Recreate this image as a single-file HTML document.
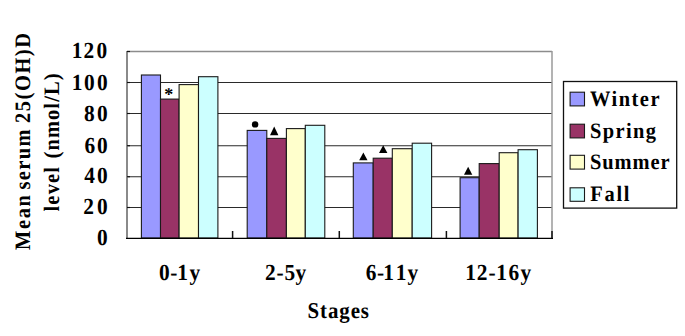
<!DOCTYPE html><html><head><meta charset="utf-8"><style>html,body{margin:0;padding:0;background:#fff;overflow:hidden}svg{display:block}text{font-family:"Liberation Serif",serif;font-weight:bold;text-rendering:geometricPrecision}</style></head><body><svg width="685" height="336" viewBox="0 0 685 336"><rect width="685" height="336" fill="#fff"/><line x1="127" y1="82.5" x2="552" y2="82.5" stroke="#2a2a2a" stroke-width="1.15"/>
<line x1="127" y1="113.5" x2="552" y2="113.5" stroke="#2a2a2a" stroke-width="1.15"/>
<line x1="127" y1="145.7" x2="552" y2="145.7" stroke="#2a2a2a" stroke-width="1.15"/>
<line x1="127" y1="176.7" x2="552" y2="176.7" stroke="#2a2a2a" stroke-width="1.15"/>
<line x1="127" y1="207.5" x2="552" y2="207.5" stroke="#2a2a2a" stroke-width="1.15"/>
<line x1="127" y1="51.5" x2="552" y2="51.5" stroke="#8c8c8c" stroke-width="1.4"/>
<rect x="141.4" y="75.0" width="19.1" height="163.0" fill="#9999FF" stroke="#1a1a1a" stroke-width="1.1"/>
<rect x="160.5" y="99.1" width="18.6" height="138.9" fill="#993366" stroke="#1a1a1a" stroke-width="1.1"/>
<rect x="179.1" y="84.6" width="19.4" height="153.4" fill="#FFFFCC" stroke="#1a1a1a" stroke-width="1.1"/>
<rect x="198.5" y="76.7" width="19.4" height="161.3" fill="#CCFFFF" stroke="#1a1a1a" stroke-width="1.1"/>
<rect x="247.2" y="130.4" width="19.6" height="107.6" fill="#9999FF" stroke="#1a1a1a" stroke-width="1.1"/>
<rect x="266.8" y="138.4" width="19.6" height="99.6" fill="#993366" stroke="#1a1a1a" stroke-width="1.1"/>
<rect x="286.4" y="128.6" width="18.9" height="109.4" fill="#FFFFCC" stroke="#1a1a1a" stroke-width="1.1"/>
<rect x="305.3" y="125.3" width="19.5" height="112.7" fill="#CCFFFF" stroke="#1a1a1a" stroke-width="1.1"/>
<rect x="353.3" y="162.9" width="19.9" height="75.1" fill="#9999FF" stroke="#1a1a1a" stroke-width="1.1"/>
<rect x="373.2" y="158.2" width="19.1" height="79.8" fill="#993366" stroke="#1a1a1a" stroke-width="1.1"/>
<rect x="392.3" y="148.7" width="19.9" height="89.3" fill="#FFFFCC" stroke="#1a1a1a" stroke-width="1.1"/>
<rect x="412.2" y="143.2" width="19.4" height="94.8" fill="#CCFFFF" stroke="#1a1a1a" stroke-width="1.1"/>
<rect x="460.1" y="177.7" width="19.1" height="60.3" fill="#9999FF" stroke="#1a1a1a" stroke-width="1.1"/>
<rect x="479.2" y="163.6" width="20.0" height="74.4" fill="#993366" stroke="#1a1a1a" stroke-width="1.1"/>
<rect x="499.2" y="152.7" width="18.9" height="85.3" fill="#FFFFCC" stroke="#1a1a1a" stroke-width="1.1"/>
<rect x="518.1" y="149.7" width="19.3" height="88.3" fill="#CCFFFF" stroke="#1a1a1a" stroke-width="1.1"/>
<line x1="127" y1="51" x2="127" y2="238.5" stroke="#8a8a8a" stroke-width="2"/>
<line x1="552" y1="51" x2="552" y2="238.5" stroke="#9a9a9a" stroke-width="1.5"/>
<line x1="126" y1="238.4" x2="553" y2="238.4" stroke="#000" stroke-width="1.4"/>
<line x1="232.6" y1="231" x2="232.6" y2="238" stroke="#111" stroke-width="1.5"/>
<line x1="339.3" y1="231" x2="339.3" y2="238" stroke="#111" stroke-width="1.5"/>
<line x1="446.4" y1="231" x2="446.4" y2="238" stroke="#111" stroke-width="1.5"/>
<line x1="552" y1="231" x2="552" y2="238" stroke="#111" stroke-width="1.5"/>
<line x1="127" y1="51.5" x2="130" y2="51.5" stroke="#111" stroke-width="1.15"/>
<line x1="127" y1="82.5" x2="130" y2="82.5" stroke="#111" stroke-width="1.15"/>
<line x1="127" y1="113.5" x2="130" y2="113.5" stroke="#111" stroke-width="1.15"/>
<line x1="127" y1="145.7" x2="130" y2="145.7" stroke="#111" stroke-width="1.15"/>
<line x1="127" y1="176.7" x2="130" y2="176.7" stroke="#111" stroke-width="1.15"/>
<line x1="127" y1="207.5" x2="130" y2="207.5" stroke="#111" stroke-width="1.15"/>
<text x="168.8" y="99.6" font-size="18" text-anchor="middle">*</text>
<circle cx="255.1" cy="124.4" r="3.2" fill="#000"/>
<polygon points="270,135.2 278.4,135.2 274.2,126.6" fill="#000"/>
<polygon points="359.2,160.3 367.5,160.3 363.35,152.5" fill="#000"/>
<polygon points="379,153.1 387.4,153.1 383.2,145.3" fill="#000"/>
<polygon points="464,174.8 472.3,174.8 468.15,166.7" fill="#000"/>
<rect x="563.5" y="81.5" width="113.2" height="126.6" fill="#fff" stroke="#111" stroke-width="1.3"/>
<rect x="570.1" y="92.2" width="14.4" height="13.7" fill="#9999FF" stroke="#1a1a1a" stroke-width="1.1"/>
<rect x="570.1" y="124.2" width="14.4" height="13.7" fill="#993366" stroke="#1a1a1a" stroke-width="1.1"/>
<rect x="570.1" y="155.3" width="14.4" height="13.8" fill="#FFFFCC" stroke="#1a1a1a" stroke-width="1.1"/>
<rect x="570.1" y="187.8" width="14.4" height="13.5" fill="#CCFFFF" stroke="#1a1a1a" stroke-width="1.1"/>
<text transform="translate(71.80,58.3) scale(0.93,1)" font-size="23">1</text>
<text transform="translate(83.60,58.3) scale(0.93,1)" font-size="23">2</text>
<text transform="translate(96.50,58.3) scale(0.93,1)" font-size="23">0</text>
<text transform="translate(71.80,89.5) scale(0.93,1)" font-size="23">1</text>
<text transform="translate(84.10,89.5) scale(0.93,1)" font-size="23">0</text>
<text transform="translate(97.10,89.5) scale(0.93,1)" font-size="23">0</text>
<text transform="translate(84.10,120.5) scale(0.93,1)" font-size="23">8</text>
<text transform="translate(97.10,120.5) scale(0.93,1)" font-size="23">0</text>
<text transform="translate(84.60,152.5) scale(0.93,1)" font-size="23">6</text>
<text transform="translate(97.10,152.5) scale(0.93,1)" font-size="23">0</text>
<text transform="translate(84.20,182.6) scale(0.93,1)" font-size="23">4</text>
<text transform="translate(97.10,182.6) scale(0.93,1)" font-size="23">0</text>
<text transform="translate(83.30,214.1) scale(0.93,1)" font-size="23">2</text>
<text transform="translate(97.10,214.1) scale(0.93,1)" font-size="23">0</text>
<text transform="translate(97.10,245.1) scale(0.93,1)" font-size="23">0</text>
<text transform="translate(158.90,279.5) scale(0.93,1)" font-size="23">0</text>
<text transform="translate(170.20,279.5) scale(0.93,1)" font-size="23">-</text>
<text transform="translate(177.20,279.5) scale(0.93,1)" font-size="23">1</text>
<text transform="translate(189.50,279.5) scale(0.93,1)" font-size="23">y</text>
<text transform="translate(265.05,279.5) scale(0.93,1)" font-size="23">2</text>
<text transform="translate(276.50,279.5) scale(0.93,1)" font-size="23">-</text>
<text transform="translate(284.45,279.5) scale(0.93,1)" font-size="23">5</text>
<text transform="translate(295.40,279.5) scale(0.93,1)" font-size="23">y</text>
<text transform="translate(365.70,279.5) scale(0.93,1)" font-size="23">6</text>
<text transform="translate(377.00,279.5) scale(0.93,1)" font-size="23">-</text>
<text transform="translate(383.30,279.5) scale(0.93,1)" font-size="23">1</text>
<text transform="translate(395.80,279.5) scale(0.93,1)" font-size="23">1</text>
<text transform="translate(407.40,279.5) scale(0.93,1)" font-size="23">y</text>
<text transform="translate(465.30,279.5) scale(0.93,1)" font-size="23">1</text>
<text transform="translate(476.80,279.5) scale(0.93,1)" font-size="23">2</text>
<text transform="translate(488.60,279.5) scale(0.93,1)" font-size="23">-</text>
<text transform="translate(496.30,279.5) scale(0.93,1)" font-size="23">1</text>
<text transform="translate(508.50,279.5) scale(0.93,1)" font-size="23">6</text>
<text transform="translate(520.50,279.5) scale(0.93,1)" font-size="23">y</text>
<text transform="translate(307.50,317.8) scale(0.93,1)" font-size="22.5" textLength="66.13" lengthAdjust="spacing">Stages</text>
<text transform="translate(590.00,105.8) scale(0.93,1)" font-size="22" textLength="74.73" lengthAdjust="spacing">Winter</text>
<text transform="translate(590.00,137.8) scale(0.93,1)" font-size="22" textLength="70.97" lengthAdjust="spacing">Spring</text>
<text transform="translate(590.00,168.5) scale(0.93,1)" font-size="22" textLength="85.48" lengthAdjust="spacing">Summer</text>
<text transform="translate(590.25,200.7) scale(0.93,1)" font-size="22" textLength="42.20" lengthAdjust="spacing">Fall</text>
<text transform="translate(30.1,250.00) rotate(-90) scale(0.93,1)" font-size="22" textLength="59.14" lengthAdjust="spacing">Mean</text>
<text transform="translate(30.1,189.50) rotate(-90) scale(0.93,1)" font-size="22" textLength="64.52" lengthAdjust="spacing">serum</text>
<text transform="translate(30.1,123.00) rotate(-90) scale(0.93,1)" font-size="22" textLength="96.77" lengthAdjust="spacing">25(OH)D</text>
<text transform="translate(58.7,211.50) rotate(-90) scale(0.93,1)" font-size="22" textLength="47.85" lengthAdjust="spacing">level</text>
<text transform="translate(58.7,158.50) rotate(-90) scale(0.93,1)" font-size="22" textLength="91.40" lengthAdjust="spacing">(nmol/L)</text></svg></body></html>
